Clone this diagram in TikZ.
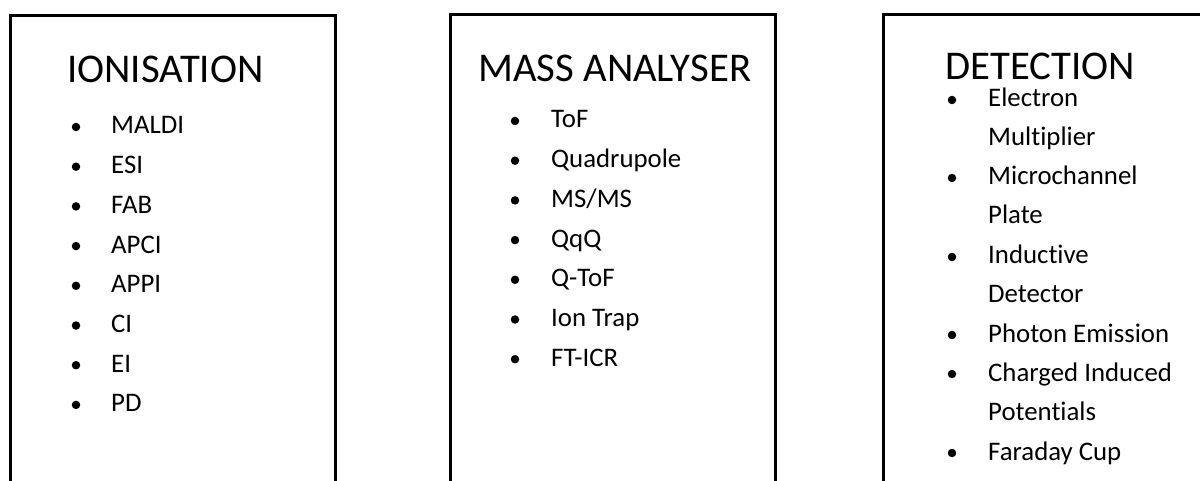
\documentclass[tikz,border=0pt]{standalone}
\usepackage{fontspec}
\setmainfont{Carlito}[Ligatures={NoCommon}]
\begin{document}
\begin{tikzpicture}[x=1pt,y=-1pt,
  panel/.style={draw=black,line width=3pt},
  title/.style={anchor=base west,inner sep=0pt,text depth=0pt,font=\fontsize{40.8}{42}\selectfont},
  item/.style={anchor=base west,inner sep=0pt,font=\fontsize{26.8}{28}\selectfont},
  dot/.style={circle,fill=black,inner sep=0pt,minimum size=8.5pt}]
\useasboundingbox (0,0) rectangle (1200,481);
\begin{scope}
\clip (0,0) rectangle (1200,481);
\draw[panel] (10,16) rectangle (335,520);
\draw[panel] (450,15) rectangle (775,520);
\draw[panel] (883,15) rectangle (1260,520);
\end{scope}
% Ionisation
\node[title] (t1) at (67,83) {IONISATION};
\foreach \txt [count=\i] in {MALDI,ESI,FAB,APCI,APPI,CI,EI,PD}{
  \node[dot] (b1\i) at (76,{134+39.7*(\i-1)-7}) {};
  \node[item] (i1\i) at (111,{134+39.7*(\i-1)}) {\txt};
}
% Mass analyser
\node[title] (t2) at (478,82) {MASS ANALYSER};
\foreach \txt [count=\i] in {ToF,Quadrupole,MS/MS,QqQ,Q-ToF,Ion Trap,FT-ICR}{
  \node[dot] (b2\i) at (515,{128+39.7*(\i-1)-7}) {};
  \node[item] (i2\i) at (551,{128+39.7*(\i-1)}) {\txt};
}
% Detection
\node[title] (t3) at (945,80) {DETECTION};
\node[dot] (b31) at (952,100) {};
\node[item] (i31) at (988,107) {Electron};
\node[item] (i32) at (988,146) {Multiplier};
\node[dot] (b32) at (952,178) {};
\node[item] (i33) at (988,185) {Microchannel};
\node[item] (i34) at (988,224) {Plate};
\node[dot] (b33) at (952,257) {};
\node[item] (i35) at (988,264) {Inductive};
\node[item] (i36) at (988,302) {Detector};
\node[dot] (b34) at (952,335) {};
\node[item] (i37) at (988,342) {Photon Emission};
\node[dot] (b35) at (952,374) {};
\node[item] (i38) at (988,381) {Charged Induced};
\node[item] (i39) at (988,420) {Potentials};
\node[dot] (b36) at (952,453) {};
\node[item] (i310) at (988,460) {Faraday Cup};
\end{tikzpicture}
\end{document}
